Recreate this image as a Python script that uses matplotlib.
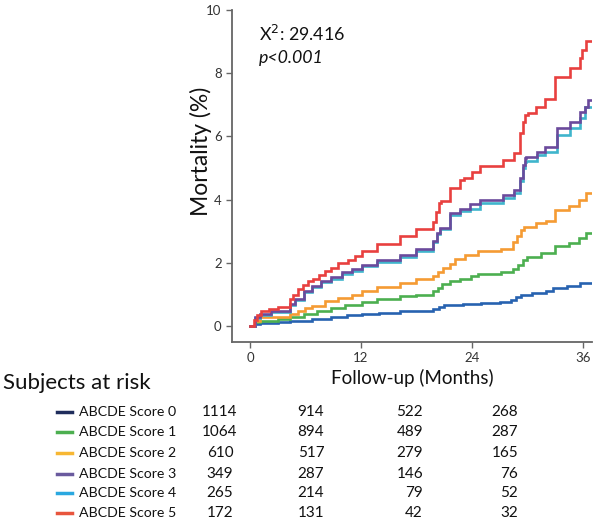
import matplotlib
matplotlib.use("Agg")
import matplotlib.pyplot as plt

plt.rcParams['font.family'] = ['Lato', 'DejaVu Sans']

# ---- data ----
labels = ["ABCDE Score 0", "ABCDE Score 1", "ABCDE Score 2",
          "ABCDE Score 3", "ABCDE Score 4", "ABCDE Score 5"]

t0 = [0, 0.5, 1.1, 3.0, 4.3, 6.7, 8.8, 10.5, 12.1, 14.0, 16.2, 19.8, 20.5, 21.0,
      23.0, 25.0, 27.0, 28.2, 28.8, 29.3, 30.5, 32.0, 32.8, 34.3, 35.7, 37.0]
v0 = [0, 0.06, 0.09, 0.12, 0.17, 0.24, 0.3, 0.34, 0.38, 0.42, 0.47, 0.54, 0.6, 0.66,
      0.7, 0.74, 0.78, 0.84, 0.92, 1.0, 1.05, 1.1, 1.2, 1.27, 1.37, 1.37]

t1 = [0, 0.5, 1.1, 3.0, 4.3, 5.8, 7.3, 8.8, 10.3, 12.1, 13.7, 16.2, 18.0, 19.8, 20.3,
      20.8, 21.6, 22.7, 23.9, 24.7, 27.2, 28.5, 29.0, 29.5, 30.0, 31.5, 33.0, 34.5,
      35.6, 36.3, 37.0]
v1 = [0, 0.13, 0.17, 0.22, 0.28, 0.38, 0.48, 0.59, 0.66, 0.75, 0.85, 0.95, 1.0, 1.1, 1.2,
      1.32, 1.43, 1.5, 1.58, 1.64, 1.71, 1.8, 1.95, 2.08, 2.2, 2.3, 2.53, 2.64,
      2.79, 2.95, 2.95]

t2 = [0, 0.5, 1.1, 4.3, 5.2, 6.0, 6.7, 8.1, 9.5, 11.0, 12.1, 13.7, 16.2, 18.0, 19.8,
      20.3, 20.9, 21.6, 22.2, 23.3, 24.7, 27.2, 28.5, 28.9, 29.3, 29.6, 30.9, 32.0,
      33.0, 34.5, 35.6, 36.3, 37.0]
v2 = [0, 0.17, 0.28, 0.38, 0.48, 0.56, 0.64, 0.8, 0.9, 1.0, 1.11, 1.25, 1.38, 1.48, 1.6,
      1.7, 1.85, 1.97, 2.12, 2.24, 2.37, 2.45, 2.65, 2.85, 3.05, 3.15, 3.25, 3.32,
      3.68, 3.79, 4.0, 4.21, 4.21]

t3 = [0, 0.5, 1.1, 2.3, 4.3, 4.9, 5.8, 6.7, 7.7, 8.8, 9.9, 11.0, 12.1, 13.7, 16.2,
      18.0, 19.8, 20.2, 20.6, 21.6, 22.7, 23.8, 24.9, 27.4, 28.6, 29.2, 29.5, 29.7,
      29.9, 31.0, 31.9, 33.2, 34.6, 35.7, 36.2, 36.6, 37.0]
v3 = [0, 0.28, 0.38, 0.48, 0.69, 0.85, 1.11, 1.27, 1.43, 1.54, 1.7, 1.8, 1.95, 2.09, 2.24,
      2.43, 2.7, 2.95, 3.12, 3.59, 3.72, 3.87, 4.0, 4.16, 4.31, 4.7, 5.1, 5.32,
      5.36, 5.52, 5.68, 6.27, 6.47, 6.78, 6.94, 7.15, 7.15]

t4 = [0, 0.5, 1.1, 2.3, 4.3, 4.9, 5.8, 6.7, 7.7, 8.8, 9.9, 11.0, 12.1, 13.7, 16.2,
      18.0, 19.8, 20.2, 20.6, 21.6, 22.7, 23.8, 24.9, 27.4, 28.6, 29.2, 29.5, 29.7,
      29.9, 31.0, 31.9, 33.2, 34.6, 35.7, 36.2, 37.0]
v4 = [0, 0.25, 0.35, 0.45, 0.66, 0.82, 1.07, 1.23, 1.39, 1.5, 1.65, 1.75, 1.9, 2.04, 2.19,
      2.38, 2.65, 2.9, 3.07, 3.52, 3.65, 3.71, 3.9, 4.06, 4.2, 4.6, 5.0, 5.2,
      5.22, 5.42, 5.52, 6.05, 6.27, 6.58, 6.94, 6.94]

t5 = [0, 0.4, 0.8, 1.2, 2.0, 3.0, 4.3, 4.7, 5.2, 5.7, 6.3, 6.8, 7.5, 8.1, 8.8, 9.5,
      10.6, 11.4, 12.1, 13.7, 16.2, 18.0, 19.8, 20.1, 20.4, 20.7, 21.6, 22.7, 23.2,
      24.0, 24.9, 27.4, 28.6, 29.2, 29.5, 29.8, 30.1, 30.9, 31.9, 33.0, 34.6, 35.7,
      35.9, 36.4, 37.0]
v5 = [0, 0.2, 0.35, 0.48, 0.55, 0.62, 0.85, 1.0, 1.17, 1.3, 1.42, 1.5, 1.62, 1.74, 1.85, 2.0,
      2.1, 2.22, 2.37, 2.6, 2.84, 3.08, 3.3, 3.6, 3.9, 3.95, 4.37, 4.63, 4.7,
      4.89, 5.08, 5.26, 5.47, 6.1, 6.47, 6.68, 6.74, 6.94, 7.18, 7.88, 8.15, 8.47,
      8.72, 9.02, 9.02]

risk_0 = [1114, 1064, 610, 349, 265, 172]
risk_12 = [914, 894, 517, 287, 214, 131]
risk_24 = [522, 489, 279, 146, 79, 42]
risk_36 = [268, 287, 165, 76, 52, 32]

x_ticks = [0, 12, 24, 36]
y_ticks = [0, 2, 4, 6, 8, 10]

# ---- styles ----
line_colors = ["#2762b0", "#4caf50", "#f59b33", "#6b4a9c", "#3fb5cc", "#e8403f"]
legend_colors = ["#1f2d5c", "#4caf50", "#f7b733", "#6a5a9e", "#2aa8e0", "#e8553d"]

fig = plt.figure(figsize=(6.0, 5.22), dpi=100)
ax = fig.add_axes([232/600, 1 - 342/522, (592-232)/600, (342-10)/522])

series = [(t0, v0), (t1, v1), (t2, v2), (t4, v4), (t3, v3), (t5, v5)]
order_colors = [line_colors[0], line_colors[1], line_colors[2], line_colors[4],
                line_colors[3], line_colors[5]]
for (t, v), c in zip(series, order_colors):
    ax.plot(t, v, drawstyle='steps-post', color=c, lw=1.9, solid_joinstyle='miter')

ax.set_xlim(-1.95, 37.0)
ax.set_ylim(-0.5, 10.0)
ax.set_xticks(x_ticks)
ax.set_yticks(y_ticks)
for s in ['top', 'right']:
    ax.spines[s].set_visible(False)
for s in ['left', 'bottom']:
    ax.spines[s].set_color('#666666')
    ax.spines[s].set_linewidth(1.3)
ax.tick_params(axis='both', colors='#666666', labelcolor='#333333', labelsize=9.5,
               length=4, width=1.0, direction='out')
ax.set_ylabel("Mortality (%)", fontsize=16.5, color='#111111')
ax.yaxis.set_label_coords(-0.055, 0.574)
ax.set_xlabel("Follow-up (Months)", fontsize=13.5, color='#111111', labelpad=3)

ax.text(0.075, 0.928, r"X$^2$: 29.416", transform=ax.transAxes, fontsize=12.8,
        va='center', ha='left', color='#111111')
ax.text(0.075, 0.855, "p<0.001", transform=ax.transAxes, fontsize=12.8,
        style='italic', va='center', ha='left', color='#111111')

# ---- subjects at risk table ----
W, H = 600.0, 522.0
fig.text(3/W, 1 - 383/H, "Subjects at risk", fontsize=16, ha='left', va='center',
         color='#111111')
row_y = [411.7, 432.3, 453.3, 474.3, 493.3, 513.3]
for i in range(6):
    yf = 1 - row_y[i]/H
    fig.add_artist(plt.Line2D([57/W, 72/W], [yf, yf], color=legend_colors[i], lw=2.5,
                              transform=fig.transFigure))
    fig.text(79/W, yf, labels[i], fontsize=10.2, ha='left', va='center', color='#111111')
    fig.text(220/W, yf, str(risk_0[i]), fontsize=11, ha='center', va='center', color='#111111')
    fig.text(311/W, yf, str(risk_12[i]), fontsize=11, ha='center', va='center', color='#111111')
    fig.text(423/W, yf, str(risk_24[i]), fontsize=11, ha='right', va='center', color='#111111')
    fig.text(518/W, yf, str(risk_36[i]), fontsize=11, ha='right', va='center', color='#111111')

fig.savefig("out.png", dpi=100)
